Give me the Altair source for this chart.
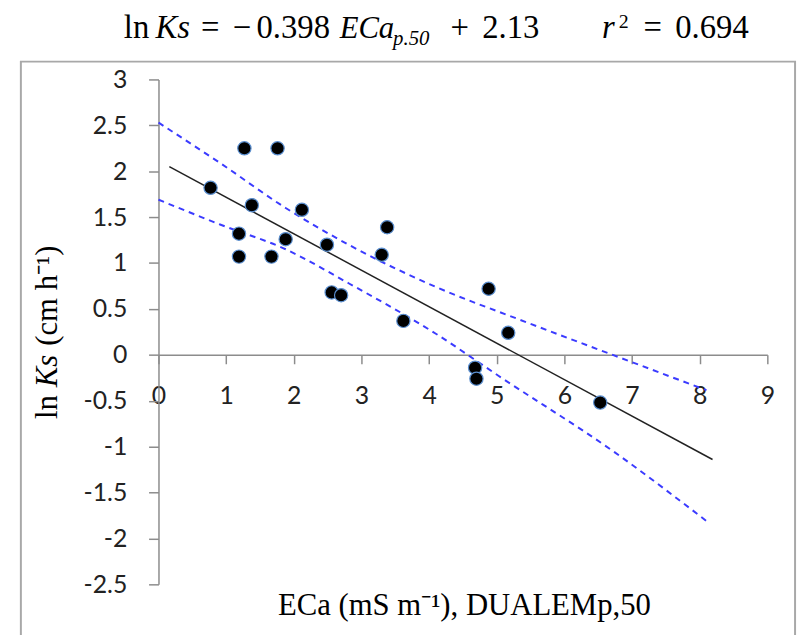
import altair as alt
import pandas as pd

# ---- data ----
eca = [0.77, 1.27, 1.76, 1.38, 1.19, 1.19, 1.67, 1.88, 2.12, 2.49,
       2.56, 2.70, 3.30, 3.38, 3.62, 4.88, 4.68, 4.70, 5.17, 6.53]
lnks = [1.82, 2.25, 2.25, 1.63, 1.32, 1.07, 1.07, 1.26, 1.58, 1.20,
        0.68, 0.65, 1.09, 1.39, 0.37, 0.72, -0.14, -0.26, 0.24, -0.52]

fit_x = [0.16, 8.19]
fit_y = [2.05, -1.14]

upper_x = [0.0, 0.91, 1.88, 2.81, 4.10, 5.35, 7.0, 8.1]
upper_y = [2.53, 2.09, 1.60, 1.20, 0.74, 0.38, -0.08, -0.385]
lower_x = [0.0, 0.91, 1.88, 2.81, 4.10, 5.03, 6.74, 8.1]
lower_y = [1.69, 1.42, 1.15, 0.78, 0.23, -0.23, -1.06, -1.81]

x_ticks = [0, 1, 2, 3, 4, 5, 6, 7, 8, 9]
y_ticks = [-2.5, -2, -1.5, -1, -0.5, 0, 0.5, 1, 1.5, 2, 2.5, 3]

title_parts = ["ln", "Ks", "=", "\u2212", "0.398", "ECa", "p.50", "+", "2.13",
               "r", "2", "=", "0.694"]
x_title = "ECa (mS m\u207b\u00b9), DUALEMp,50"
y_title_parts = ["ln", "Ks", "(cm h\u207b\u00b9)"]

W, H = 615, 510
AX = "#8c8c8c"
BAND = "#3b3bff"

xs = alt.Scale(domain=[0, 9], nice=False, zero=False)
ys = alt.Scale(domain=[-2.5, 3], nice=False, zero=False)

pts_df = pd.DataFrame({"eca": eca, "lnks": lnks})
fit_df = pd.DataFrame({"eca": fit_x, "lnks": fit_y})
up_df = pd.DataFrame({"eca": upper_x, "lnks": upper_y})
lo_df = pd.DataFrame({"eca": lower_x, "lnks": lower_y})

x_axis = alt.Axis(values=x_ticks, orient="bottom", offset=-(H - H * 3 / 5.5),
                  grid=False, title=None, domainColor=AX, domainWidth=1.5,
                  tickColor=AX, tickWidth=1.5, tickSize=9, labelFont="Lato",
                  labelFontSize=25, labelColor="#222", labelPadding=20,
                  labelExpr="'' + datum.value",
                  labelFlush=False, labelOverlap=False)
y_axis = alt.Axis(values=y_ticks, grid=False, title=None, domainColor=AX,
                  domainWidth=1.5, tickColor=AX, tickWidth=1.5, tickSize=10,
                  labelFont="Lato", labelFontSize=25, labelColor="#222",
                  labelPadding=22, labelExpr="'' + datum.value",
                  labelFlush=False, labelOverlap=False)

frame = alt.Chart(pd.DataFrame({"a": [0]})).mark_rect(
    filled=False, stroke="#a8a8a8", strokeWidth=2
).encode(x=alt.value(-139), x2=alt.value(643), y=alt.value(-18), y2=alt.value(620))

upper = alt.Chart(up_df).mark_line(
    color=BAND, strokeWidth=2, strokeDash=[6, 5], interpolate="monotone"
).encode(x=alt.X("eca:Q", scale=xs, axis=x_axis), y=alt.Y("lnks:Q", scale=ys, axis=y_axis))
lower = alt.Chart(lo_df).mark_line(
    color=BAND, strokeWidth=2, strokeDash=[6, 5], interpolate="monotone"
).encode(x=alt.X("eca:Q", scale=xs), y=alt.Y("lnks:Q", scale=ys))
fit = alt.Chart(fit_df).mark_line(color="#222", strokeWidth=1.5).encode(
    x=alt.X("eca:Q", scale=xs), y=alt.Y("lnks:Q", scale=ys))
pts = alt.Chart(pts_df).mark_circle(
    size=180, fill="black", opacity=1, stroke="#5b8fd0", strokeWidth=1.2
).encode(x=alt.X("eca:Q", scale=xs), y=alt.Y("lnks:Q", scale=ys))


def txt(s, x, y, size, style="normal", align="left", angle=0, font="Liberation Serif"):
    kw = dict(text=s, font=font, fontSize=size, fontStyle=style, align=align,
              baseline="alphabetic", color="black")
    if angle:
        kw["angle"] = angle
    return alt.Chart(pd.DataFrame({"a": [0]})).mark_text(**kw).encode(
        x=alt.value(x), y=alt.value(y))


TY = -42
tp = title_parts
texts = [
    txt(tp[0], -35, TY, 33),
    txt(tp[1], -3, TY, 33, "italic"),
    txt(tp[2], 43, TY, 33),
    txt(tp[3], 75, TY, 33),
    txt(tp[4], 99, TY, 33),
    txt(tp[5], 183, TY, 31, "italic"),
    txt(tp[6], 237, -35, 21, "italic"),
    txt(tp[7], 295, TY, 33),
    txt(tp[8], 327, TY, 33),
    txt(tp[9], 448, TY, 33, "italic"),
    txt(tp[10], 465, -52, 20),
    txt(tp[11], 490, TY, 33),
    txt(tp[12], 522, TY, 33),
    txt(x_title, 309, 541, 31, align="center"),
    txt(y_title_parts[0], -103, 343, 31, angle=270),
    txt(y_title_parts[1], -103, 311, 31, "italic", angle=270),
    txt(y_title_parts[2], -103, 269, 31, angle=270),
]

chart = alt.layer(frame, upper, lower, fit, pts, *texts).properties(
    width=W, height=H,
    autosize=alt.AutoSizeParams(type="none"),
    padding={"left": 152, "top": 69, "right": 34, "bottom": 48},
    background="white",
).configure_view(stroke=None)

chart.save("out.html", embed_options={"renderer": "svg", "actions": False})
